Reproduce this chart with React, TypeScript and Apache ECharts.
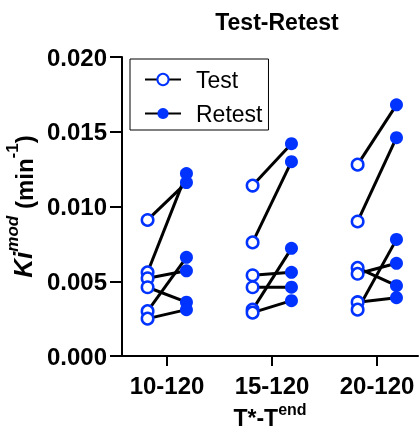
import React, { useEffect, useRef } from "react";
import * as echarts from "echarts";

const categories = ["10-120", "15-120", "20-120"];
const yTicks = [0, 0.005, 0.01, 0.015, 0.02];

// paired values, index i of test pairs with index i of retest
const test1 = [0.0091, 0.0056, 0.0052, 0.0046, 0.003, 0.0025];
const retest1 = [0.0116, 0.0122, 0.0057, 0.0036, 0.0066, 0.0031];
const test2 = [0.0114, 0.0076, 0.0054, 0.0046, 0.0031, 0.0029];
const retest2 = [0.0142, 0.013, 0.0056, 0.0046, 0.0072, 0.0037];
const test3 = [0.0128, 0.009, 0.0059, 0.0055, 0.0036, 0.0031];
const retest3 = [0.0168, 0.0146, 0.0047, 0.0062, 0.0039, 0.0078];

const testGroups = [test1, test2, test3];
const retestGroups = [retest1, retest2, retest3];

const BLUE = "#0033ff";
const FONT = "'Liberation Sans', Arial, sans-serif";
const OFF = 0.185;

export default function App() {
  const ref = useRef<HTMLDivElement>(null);
  useEffect(() => {
    if (!ref.current) return;
    const chart = echarts.init(ref.current, null, { renderer: "svg" });

    const pairSeries: any[] = [];
    const testPts: number[][] = [];
    const retestPts: number[][] = [];
    testGroups.forEach((grp, g) => {
      grp.forEach((v, i) => {
        const xt = g + 1 - OFF;
        const xr = g + 1 + OFF;
        const r = retestGroups[g][i];
        testPts.push([xt, v]);
        retestPts.push([xr, r]);
        pairSeries.push({
          type: "line",
          data: [
            [xt, v],
            [xr, r],
          ],
          showSymbol: false,
          symbol: "none",
          lineStyle: { color: "#000", width: 3 },
          z: 2,
          silent: true,
        });
      });
    });

    chart.setOption({
      animation: false,
      title: {
        text: "Test-Retest",
        left: 272,
        textAlign: "center",
        top: 5,
        textStyle: { fontFamily: FONT, fontSize: 23, fontWeight: "bold", color: "#000" },
      },
      legend: {
        data: ["Test", "Retest"],
        orient: "vertical",
        left: 130,
        top: 59,
        padding: [9, 6, 5, 14],
        itemGap: 11,
        itemWidth: 36,
        itemHeight: 14,
        borderColor: "#000",
        borderWidth: 1,
        textStyle: { fontFamily: FONT, fontSize: 23, color: "#000", padding: [0, 0, 0, 10] },
      },
      grid: { left: 122, right: 2, top: 57, bottom: 79, containLabel: false, outerBoundsMode: "none" },
      xAxis: {
        type: "value",
        min: 0.5714,
        max: 3.39,
        name: "{b|T*-T}{s|end}",
        nameLocation: "middle",
        nameGap: 45,
        nameTextStyle: {
          rich: {
            b: { fontFamily: FONT, fontSize: 23, fontWeight: "bold", color: "#000", lineHeight: 28, verticalAlign: "bottom" },
            s: { fontFamily: FONT, fontSize: 16, fontWeight: "bold", color: "#000", lineHeight: 28, verticalAlign: "top" },
          },
        },
        splitLine: { show: false },
        axisLine: { show: true, lineStyle: { color: "#000", width: 2 } },
        axisTick: { show: true, length: 10, lineStyle: { color: "#000", width: 2 }, customValues: [1, 2, 3] },
        axisLabel: {
          customValues: [1, 2, 3],
          formatter: (v: number) => categories[Math.round(v) - 1] ?? "",
          fontFamily: FONT,
          fontSize: 24,
          fontWeight: "bold",
          color: "#000",
          margin: 17,
        },
      },
      yAxis: {
        type: "value",
        min: 0,
        max: 0.02,
        interval: 0.005,
        name: "{k|Ki}{m|mod}{n| (min}{s|-1}{n|)}",
        nameLocation: "middle",
        nameRotate: 90,
        nameGap: 80,
        nameTextStyle: {
          rich: {
            k: { fontFamily: FONT, fontSize: 26, fontWeight: "bold", fontStyle: "italic", color: "#000", lineHeight: 32, verticalAlign: "bottom" },
            m: { fontFamily: FONT, fontSize: 17, fontWeight: "bold", fontStyle: "italic", color: "#000", lineHeight: 32, verticalAlign: "top" },
            n: { fontFamily: FONT, fontSize: 24, fontWeight: "bold", color: "#000", lineHeight: 32, verticalAlign: "bottom" },
            s: { fontFamily: FONT, fontSize: 17, fontWeight: "bold", color: "#000", lineHeight: 32, verticalAlign: "top" },
          },
        },
        splitLine: { show: false },
        axisLine: { show: true, lineStyle: { color: "#000", width: 2 } },
        axisTick: { show: true, length: 12, lineStyle: { color: "#000", width: 2 } },
        axisLabel: {
          formatter: (v: number) => v.toFixed(3),
          customValues: yTicks,
          fontFamily: FONT,
          fontSize: 24,
          fontWeight: "bold",
          color: "#000",
          margin: 15,
        },
      },
      series: [
        {
          name: "Test",
          type: "line",
          data: [],
          symbol: "circle",
          symbolSize: 11.5,
          lineStyle: { color: "#000", width: 3 },
          itemStyle: { color: "#fff", borderColor: BLUE, borderWidth: 2.5 },
        },
        {
          name: "Retest",
          type: "line",
          data: [],
          symbol: "circle",
          symbolSize: 13,
          lineStyle: { color: "#000", width: 3 },
          itemStyle: { color: BLUE, borderColor: BLUE, borderWidth: 0 },
        },
        ...pairSeries,
        {
          name: "Test",
          type: "scatter",
          data: testPts,
          symbol: "circle",
          symbolSize: 11.5,
          itemStyle: { color: "#fff", borderColor: BLUE, borderWidth: 2.5, opacity: 1 },
          z: 3,
        },
        {
          name: "Retest",
          type: "scatter",
          data: retestPts,
          symbol: "circle",
          symbolSize: 13,
          itemStyle: { color: BLUE, opacity: 1 },
          z: 3,
        },
      ],
    });
    return () => chart.dispose();
  }, []);
  return (
    <div
      ref={ref}
      style={{ position: "fixed", left: 0, top: 0, width: 420, height: 435 }}
    />
  );
}
